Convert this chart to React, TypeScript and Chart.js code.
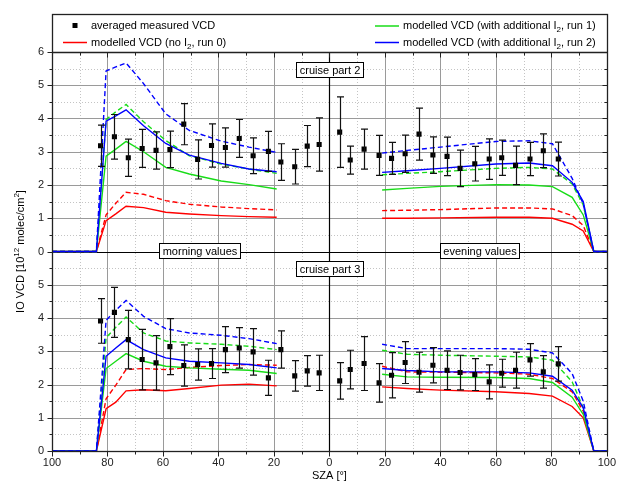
import React, { useEffect, useRef } from 'react';
import { Chart, registerables } from 'chart.js';

Chart.register(...registerables);

// ---------------- data ----------------
// measured points: SZA (morning negative, evening positive)
const POINT_SZA = [-82.5, -77.5, -72.5, -67.5, -62.5, -57.5, -52.5, -47.5, -42.5, -37.5, -32.5, -27.5, -22, -17.5, -12.5, -8,
  -3.7, 3.7, 7.5, 12.5,
  17.9, 22.4, 27.3, 32.3, 37.3, 42.4, 47.1, 52.4, 57.6, 62.1, 67.1, 72.3, 77.1, 82.5];

// cruise part 2 (upper panel)
const P2_VCD = [3.18, 3.45, 2.82, 3.10, 3.04, 3.07, 3.83, 2.77, 3.19, 3.13, 3.40, 2.88, 3.01, 2.69, 2.55, 3.17,
  3.22, 3.59, 2.75, 3.08,
  2.89, 2.80, 2.94, 3.53, 2.90, 2.86, 2.50, 2.64, 2.78, 2.82, 2.59, 2.78, 3.03, 2.78];
const P2_ERR = [0.62, 0.67, 0.56, 0.57, 0.56, 0.55, 0.62, 0.59, 0.65, 0.59, 0.57, 0.54, 0.60, 0.55, 0.52, 0.62,
  0.80, 1.06, 0.42, 0.60,
  0.60, 0.48, 0.56, 0.78, 0.55, 0.58, 0.55, 0.52, 0.61, 0.53, 0.58, 0.50, 0.51, 0.51];

// cruise part 3 (lower panel)
const P3_VCD = [3.91, 4.17, 3.35, 2.75, 2.65, 3.14, 2.57, 2.60, 2.63, 3.05, 3.10, 2.98, 2.20, 3.05, 2.26, 2.41,
  2.35, 2.11, 2.45, 2.63,
  2.05, 2.28, 2.66, 2.37, 2.58, 2.43, 2.36, 2.30, 2.08, 2.34, 2.43, 2.74, 2.38, 2.62];
const P3_ERR = [0.67, 0.75, 0.88, 0.91, 0.82, 0.84, 0.62, 0.47, 0.45, 0.69, 0.61, 0.70, 0.53, 0.56, 0.46, 0.46,
  0.53, 0.55, 0.58, 0.81,
  0.58, 0.68, 0.63, 0.60, 0.53, 0.58, 0.52, 0.48, 0.51, 0.42, 0.54, 0.49, 0.49, 0.52];

// model curves
const MORNING_SZA = [-100, -84, -80.5, -77, -73.3, -67, -59, -50.5, -39, -29, -19];
const EVENING_SZA = [19, 28, 40, 60, 72, 80.4, 87.5, 91.5, 95.3, 100];

const P2_RED_M = [0, 0, 0.93, 1.13, 1.36, 1.32, 1.18, 1.13, 1.08, 1.05, 1.03];
const P2_REDD_M = [0, 0, 1.10, 1.45, 1.78, 1.72, 1.53, 1.42, 1.34, 1.29, 1.25];
const P2_GRN_M = [0, 0, 2.87, 3.08, 3.31, 3.00, 2.53, 2.33, 2.12, 2.01, 1.88];
const P2_GRND_M = [0, 0, 3.97, 4.20, 4.42, 3.90, 3.34, 2.88, 2.63, 2.48, 2.35];
const P2_BLU_M = [0, 0, 3.92, 4.08, 4.26, 3.78, 3.25, 2.90, 2.65, 2.48, 2.40];
const P2_BLUD_M = [0, 0, 5.43, 5.55, 5.67, 5.05, 4.14, 3.64, 3.32, 3.14, 2.98];

const P2_RED_E = [1.00, 1.00, 1.01, 1.03, 1.03, 1.00, 0.82, 0.62, 0, 0];
const P2_REDD_E = [1.23, 1.24, 1.26, 1.31, 1.31, 1.28, 1.08, 0.78, 0, 0];
const P2_GRN_E = [1.85, 1.90, 1.96, 2.01, 2.00, 1.95, 1.63, 1.10, 0, 0];
const P2_GRND_E = [2.31, 2.35, 2.40, 2.50, 2.53, 2.48, 2.03, 1.40, 0, 0];
const P2_BLU_E = [2.38, 2.43, 2.50, 2.63, 2.66, 2.58, 2.08, 1.50, 0, 0];
const P2_BLUD_E = [2.96, 3.04, 3.14, 3.31, 3.33, 3.24, 2.20, 1.43, 0, 0];

const P3_RED_M = [0, 0, 1.27, 1.47, 1.81, 1.84, 1.81, 1.88, 1.98, 2.01, 1.96];
const P3_REDD_M = [0, 0, 1.57, 1.98, 2.45, 2.48, 2.45, 2.51, 2.57, 2.60, 2.58];
const P3_GRN_M = [0, 0, 2.48, 2.70, 2.93, 2.70, 2.55, 2.50, 2.46, 2.43, 2.33];
const P3_GRND_M = [0, 0, 3.41, 3.72, 4.03, 3.55, 3.31, 3.25, 3.21, 3.15, 3.05];
const P3_BLU_M = [0, 0, 2.85, 3.10, 3.35, 3.05, 2.80, 2.70, 2.65, 2.60, 2.50];
const P3_BLUD_M = [0, 0, 3.93, 4.23, 4.53, 4.05, 3.68, 3.55, 3.48, 3.38, 3.23];

const P3_RED_E = [1.93, 1.88, 1.83, 1.78, 1.73, 1.65, 1.34, 1.00, 0, 0];
const P3_REDD_E = [2.55, 2.38, 2.37, 2.35, 2.31, 2.18, 1.78, 1.20, 0, 0];
const P3_GRN_E = [2.31, 2.23, 2.22, 2.21, 2.18, 2.06, 1.62, 1.10, 0, 0];
const P3_GRND_E = [3.03, 2.91, 2.88, 2.85, 2.83, 2.73, 2.08, 1.30, 0, 0];
const P3_BLU_E = [2.48, 2.42, 2.38, 2.38, 2.35, 2.25, 1.83, 1.30, 0, 0];
const P3_BLUD_E = [3.21, 3.08, 3.08, 3.08, 3.06, 2.95, 2.33, 1.50, 0, 0];

const UPPER_OFFSET = 6; // upper panel's zero sits at 6 on the shared axis

// ---------------- styles ----------------
const FONT = '"Liberation Sans", Arial, Helvetica, sans-serif';
const RED = '#ff0000';
const GREEN = '#18dc18';
const BLUE = '#0000ff';

const CURVES = [
  { color: RED, dashed: false, order: 6, p2m: P2_RED_M, p2e: P2_RED_E, p3m: P3_RED_M, p3e: P3_RED_E },
  { color: RED, dashed: true, order: 5, p2m: P2_REDD_M, p2e: P2_REDD_E, p3m: P3_REDD_M, p3e: P3_REDD_E },
  { color: GREEN, dashed: false, order: 4, p2m: P2_GRN_M, p2e: P2_GRN_E, p3m: P3_GRN_M, p3e: P3_GRN_E },
  { color: GREEN, dashed: true, order: 3, p2m: P2_GRND_M, p2e: P2_GRND_E, p3m: P3_GRND_M, p3e: P3_GRND_E },
  { color: BLUE, dashed: false, order: 2, p2m: P2_BLU_M, p2e: P2_BLU_E, p3m: P3_BLU_M, p3e: P3_BLU_E },
  { color: BLUE, dashed: true, order: 1, p2m: P2_BLUD_M, p2e: P2_BLUD_E, p3m: P3_BLUD_M, p3e: P3_BLUD_E },
];

function lineDs(xs: number[], ys: number[], offset: number, color: string, dashed: boolean, order: number) {
  return {
    type: 'line',
    data: xs.map((x, i) => ({ x, y: ys[i] + offset })),
    borderColor: color,
    backgroundColor: color,
    borderWidth: 1.4,
    borderDash: dashed ? [5, 3] : [],
    pointRadius: 0,
    fill: false,
    tension: 0,
    order,
    clip: 6,
  };
}

function pointsDs(vals: number[], offset: number) {
  return {
    type: 'line',
    data: POINT_SZA.map((x, i) => ({ x, y: vals[i] + offset })),
    showLine: false,
    pointStyle: 'rect',
    pointRadius: 3.6,
    pointBackgroundColor: '#000',
    pointBorderColor: '#000',
    pointBorderWidth: 0,
    order: 0,
    clip: 6,
  };
}

type Part = { t: string; s?: boolean; dy?: number };

function partsWidth(ctx: CanvasRenderingContext2D, parts: Part[]) {
  let w = 0;
  for (const p of parts) {
    ctx.font = `${p.s ? 8 : 11}px ${FONT}`;
    w += ctx.measureText(p.t).width;
  }
  return w;
}

function drawParts(ctx: CanvasRenderingContext2D, parts: Part[], x: number, y: number) {
  let cx = x;
  ctx.textAlign = 'left';
  ctx.textBaseline = 'middle';
  for (const p of parts) {
    ctx.font = `${p.s ? 8 : 11}px ${FONT}`;
    ctx.fillText(p.t, cx, y + (p.dy || 0));
    cx += ctx.measureText(p.t).width;
  }
}

function labelBox(ctx: CanvasRenderingContext2D, text: string, cx: number, cy: number) {
  ctx.font = `11px ${FONT}`;
  const w = Math.round(ctx.measureText(text).width + 6);
  const h = 15;
  const x0 = Math.round(cx - w / 2) + 0.5;
  const y0 = Math.round(cy - h / 2) + 0.5;
  ctx.fillStyle = '#fff';
  ctx.fillRect(x0, y0, w, h);
  ctx.strokeStyle = '#000';
  ctx.lineWidth = 1;
  ctx.setLineDash([]);
  ctx.strokeRect(x0, y0, w, h);
  ctx.fillStyle = '#000';
  ctx.textAlign = 'center';
  ctx.textBaseline = 'middle';
  ctx.fillText(text, x0 + w / 2, y0 + h / 2 + 0.5);
}

const gridPlugin = {
  id: 'customGrid',
  beforeDatasetsDraw(chart: any) {
    const { ctx, chartArea: ca, scales } = chart;
    const xs = scales.x;
    const ys = scales.y;
    ctx.save();
    // minor dotted lines
    ctx.strokeStyle = '#c4c4c4';
    ctx.lineWidth = 1;
    ctx.setLineDash([1, 2]);
    for (let v = -90; v <= 90; v += 20) {
      const px = Math.round(xs.getPixelForValue(v)) + 0.5;
      ctx.beginPath(); ctx.moveTo(px, ca.top); ctx.lineTo(px, ca.bottom); ctx.stroke();
    }
    for (let v = 0.5; v < 12; v += 1) {
      const py = Math.round(ys.getPixelForValue(v)) + 0.5;
      ctx.beginPath(); ctx.moveTo(ca.left, py); ctx.lineTo(ca.right, py); ctx.stroke();
    }
    // major solid lines
    ctx.setLineDash([]);
    ctx.strokeStyle = '#9a9a9a';
    for (let v = -80; v <= 80; v += 20) {
      if (v === 0) continue;
      const px = Math.round(xs.getPixelForValue(v)) + 0.5;
      ctx.beginPath(); ctx.moveTo(px, ca.top); ctx.lineTo(px, ca.bottom); ctx.stroke();
    }
    for (let v = 1; v < 12; v += 1) {
      if (v === 6) continue;
      const py = Math.round(ys.getPixelForValue(v)) + 0.5;
      ctx.beginPath(); ctx.moveTo(ca.left, py); ctx.lineTo(ca.right, py); ctx.stroke();
    }
    // zero lines
    ctx.strokeStyle = '#000';
    ctx.lineWidth = 1.2;
    const p0 = Math.round(xs.getPixelForValue(0)) + 0.5;
    ctx.beginPath(); ctx.moveTo(p0, ca.top); ctx.lineTo(p0, ca.bottom); ctx.stroke();
    const p6 = Math.round(ys.getPixelForValue(UPPER_OFFSET)) + 0.5;
    ctx.beginPath(); ctx.moveTo(ca.left, p6); ctx.lineTo(ca.right, p6); ctx.stroke();
    ctx.restore();
  },
  afterDatasetsDraw(chart: any) {
    const { ctx, chartArea: ca, scales } = chart;
    const xs = scales.x;
    const ys = scales.y;
    ctx.save();
    // error bars
    ctx.strokeStyle = '#111';
    ctx.lineWidth = 1.2;
    ctx.setLineDash([]);
    const drawErr = (vals: number[], errs: number[], off: number) => {
      POINT_SZA.forEach((sza, i) => {
        const px = Math.round(xs.getPixelForValue(sza)) + 0.5;
        const yt = ys.getPixelForValue(vals[i] + errs[i] + off);
        const yb = ys.getPixelForValue(vals[i] - errs[i] + off);
        ctx.beginPath();
        ctx.moveTo(px, yt); ctx.lineTo(px, yb);
        ctx.moveTo(px - 3.5, yt); ctx.lineTo(px + 3.5, yt);
        ctx.moveTo(px - 3.5, yb); ctx.lineTo(px + 3.5, yb);
        ctx.stroke();
      });
    };
    drawErr(P2_VCD, P2_ERR, UPPER_OFFSET);
    drawErr(P3_VCD, P3_ERR, 0);

    // frame
    const L = Math.round(ca.left) + 0.5;
    const R = Math.round(ca.right) + 0.5;
    const T = Math.round(ca.top) + 0.5;
    const B = Math.round(ca.bottom) + 0.5;
    const legendTop = 14.5;
    ctx.strokeStyle = '#222';
    ctx.lineWidth = 1.3;
    ctx.strokeRect(L, legendTop, R - L, B - legendTop);
    ctx.beginPath(); ctx.moveTo(L, T); ctx.lineTo(R, T); ctx.stroke();

    // ticks
    ctx.lineWidth = 1;
    ctx.strokeStyle = '#222';
    ctx.beginPath();
    for (let v = 0; v <= 12.001; v += 0.5) {
      const py = Math.round(ys.getPixelForValue(v)) + 0.5;
      const len = Math.abs(v - Math.round(v)) < 0.01 ? 5 : 3;
      ctx.moveTo(L - len, py); ctx.lineTo(L, py);
      ctx.moveTo(R - len, py); ctx.lineTo(R, py);
    }
    for (let v = -100; v <= 100; v += 10) {
      const px = Math.round(xs.getPixelForValue(v)) + 0.5;
      const len = v % 20 === 0 ? 5 : 3;
      ctx.moveTo(px, B); ctx.lineTo(px, B + len);
      ctx.moveTo(px, T); ctx.lineTo(px, T + len);
    }
    ctx.stroke();
    ctx.restore();
  },
  afterDraw(chart: any) {
    const { ctx, chartArea: ca, scales } = chart;
    const xs = scales.x;
    const ys = scales.y;
    ctx.save();
    ctx.fillStyle = '#000';

    // legend
    const r1 = 26;
    const r2 = 42.5;
    ctx.fillRect(72.5, r1 - 3, 5, 5);
    drawParts(ctx, [{ t: 'averaged measured VCD' }], 91, r1);
    ctx.lineWidth = 1.5;
    ctx.strokeStyle = RED;
    ctx.beginPath(); ctx.moveTo(63, r2); ctx.lineTo(87, r2); ctx.stroke();
    drawParts(ctx, [{ t: 'modelled VCD (no I' }, { t: '2', s: true, dy: 4 }, { t: ', run 0)' }], 91, r2);
    ctx.strokeStyle = GREEN;
    ctx.beginPath(); ctx.moveTo(375, r1); ctx.lineTo(399, r1); ctx.stroke();
    drawParts(ctx, [{ t: 'modelled VCD (with additional I' }, { t: '2', s: true, dy: 4 }, { t: ', run 1)' }], 403, r1);
    ctx.strokeStyle = BLUE;
    ctx.beginPath(); ctx.moveTo(375, r2); ctx.lineTo(399, r2); ctx.stroke();
    drawParts(ctx, [{ t: 'modelled VCD (with additional I' }, { t: '2', s: true, dy: 4 }, { t: ', run 2)' }], 403, r2);

    // y title
    const yParts: Part[] = [{ t: 'IO VCD [10' }, { t: '12', s: true, dy: -4 }, { t: ' molec/cm' }, { t: '2', s: true, dy: -4 }, { t: ']' }];
    ctx.save();
    ctx.translate(21, (ca.top + ca.bottom) / 2);
    ctx.rotate(-Math.PI / 2);
    const w = partsWidth(ctx, yParts);
    drawParts(ctx, yParts, -w / 2, 0);
    ctx.restore();

    // x title
    ctx.font = `11px ${FONT}`;
    ctx.textAlign = 'center';
    ctx.textBaseline = 'middle';
    ctx.fillText('SZA [°]', xs.getPixelForValue(0), 476);

    // annotation boxes
    labelBox(ctx, 'cruise part 2', xs.getPixelForValue(0), ys.getPixelForValue(11.47));
    labelBox(ctx, 'cruise part 3', xs.getPixelForValue(0), ys.getPixelForValue(5.49));
    labelBox(ctx, 'morning values', xs.getPixelForValue(-46.8), ys.getPixelForValue(6.04));
    labelBox(ctx, 'evening values', xs.getPixelForValue(54.2), ys.getPixelForValue(6.04));
    ctx.restore();
  },
};

export default function App() {
  const ref = useRef<HTMLCanvasElement | null>(null);

  useEffect(() => {
    document.body.style.margin = '0';
    const canvas = ref.current;
    if (!canvas) return;

    const datasets: any[] = [];
    for (const c of CURVES) {
      datasets.push(lineDs(MORNING_SZA, c.p2m, UPPER_OFFSET, c.color, c.dashed, c.order));
      datasets.push(lineDs(EVENING_SZA, c.p2e, UPPER_OFFSET, c.color, c.dashed, c.order));
      datasets.push(lineDs(MORNING_SZA, c.p3m, 0, c.color, c.dashed, c.order));
      datasets.push(lineDs(EVENING_SZA, c.p3e, 0, c.color, c.dashed, c.order));
    }
    datasets.push(pointsDs(P2_VCD, UPPER_OFFSET));
    datasets.push(pointsDs(P3_VCD, 0));

    const chart = new Chart(canvas, {
      type: 'line',
      data: { datasets },
      options: {
        animation: false,
        responsive: false,
        devicePixelRatio: 1,
        layout: { padding: { top: 52, right: 11, left: 0, bottom: 0 } },
        plugins: {
          legend: { display: false },
          tooltip: { enabled: false },
        },
        scales: {
          x: {
            type: 'linear',
            min: -100,
            max: 100,
            grid: { display: false, drawTicks: false },
            border: { display: false },
            ticks: {
              stepSize: 20,
              autoSkip: false,
              maxRotation: 0,
              padding: 5,
              color: '#222',
              font: { family: FONT, size: 11 },
              callback: (v: any) => String(Math.abs(Number(v))),
            },
            afterFit: (s: any) => { s.height = 32; },
          },
          y: {
            type: 'linear',
            min: 0,
            max: 12,
            grid: { display: false, drawTicks: false },
            border: { display: false },
            ticks: {
              stepSize: 1,
              padding: 8,
              color: '#222',
              font: { family: FONT, size: 11 },
              callback: (v: any) => {
                const n = Number(v);
                return String(n >= UPPER_OFFSET ? n - UPPER_OFFSET : n);
              },
            },
            afterFit: (s: any) => { s.width = 52; },
          },
        },
      } as any,
      plugins: [gridPlugin],
    });

    return () => chart.destroy();
  }, []);

  return (
    <div style={{ width: 621, height: 483 }}>
      <canvas ref={ref} width={621} height={483} style={{ display: 'block', width: 621, height: 483 }} />
    </div>
  );
}
